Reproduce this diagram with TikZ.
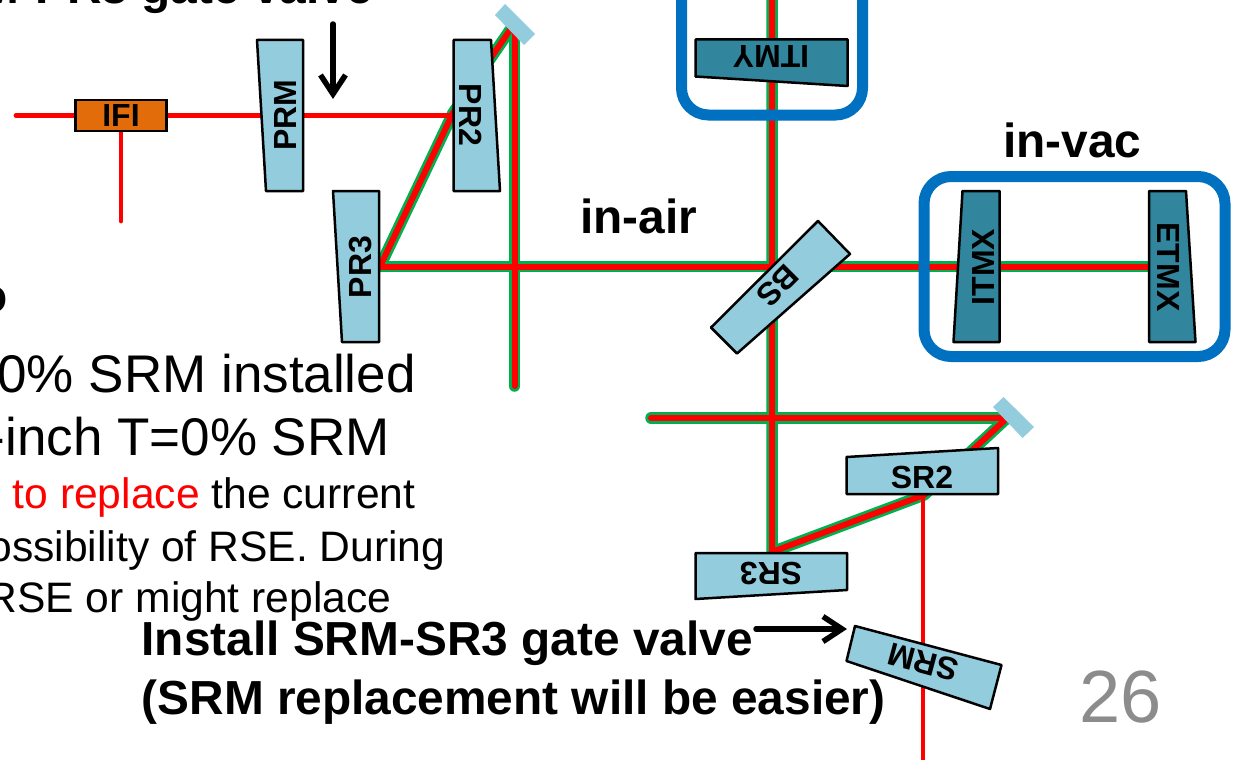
\documentclass[tikz,border=0pt]{standalone}
\usepackage{fontspec}
\setmainfont{Liberation Sans}
\usetikzlibrary{arrows.meta}
\definecolor{lightopt}{HTML}{93CDDD}
\definecolor{darkopt}{HTML}{31859C}
\definecolor{ifiorange}{HTML}{E36C0A}
\definecolor{vacblue}{HTML}{0070C0}
\definecolor{beamgreen}{HTML}{00B050}
\definecolor{pagegray}{HTML}{8C8C8C}
\tikzset{
  optlight/.style={draw=black,line width=2.5pt,line join=round,fill=lightopt},
  optdark/.style={draw=black,line width=2.5pt,line join=round,fill=darkopt},
  foldmirror/.style={fill=lightopt,draw=none},
  beamout/.style={draw=beamgreen,line width=11.5pt,line cap=round,line join=round},
  beamin/.style={draw=red,line width=6pt,line cap=round,line join=round},
  redbeam/.style={draw=red,line width=4.8pt,line cap=round},
  vacbox/.style={draw=vacblue,line width=11pt,rounded corners=27pt},
  optlabel/.style={inner sep=0pt,font=\fontsize{32}{36}\selectfont\bfseries},
  bigtext/.style={inner sep=0pt,anchor=base east,font=\fontsize{53}{60}\selectfont},
  smalltext/.style={inner sep=0pt,anchor=base east,font=\fontsize{42.6}{50}\selectfont},
  boldtext/.style={inner sep=0pt,font=\fontsize{47.8}{55}\selectfont\bfseries},
  callout/.style={draw=black,line width=5.5pt,line cap=round,-{Straight Barb[length=19pt,width=25pt,line width=5.5pt]}},
}
\begin{document}
\begin{tikzpicture}[x=1pt,y=-1pt]
\useasboundingbox (0,0) rectangle (1234,760);
\clip (0,0) rectangle (1234,760);
% beam coordinates
\coordinate (prthree) at (380,266.5);
\coordinate (prtwo) at (453,113);
\coordinate (fold) at (510,30);
\coordinate (foldbot) at (514.5,386);
\coordinate (foldtop) at (514.5,34);
\coordinate (etmx) at (1150,266.5);
\coordinate (ytop) at (772,-10);
\coordinate (srthree) at (772,552);
\coordinate (srtwo) at (924,495);
\coordinate (sfold) at (1006,419);
\coordinate (sleft) at (651,418);
\coordinate (sfoldh) at (1006,418);
\coordinate (inleft) at (16,115.5);
\coordinate (prtwoin) at (453,115.5);
\coordinate (ifidown) at (121,221);
\coordinate (srmout) at (923,775);
\coordinate (srmin) at (923,495);
% white page
\fill[white] (0,0) rectangle (1234,760);
% beams
\foreach \st in {beamout,beamin}{
  \draw[\st] (prthree) -- (prtwo) -- (fold);
  \draw[\st] (foldtop) -- (foldbot);
  \draw[\st] (prthree) -- (etmx);
  \draw[\st] (ytop) -- (srthree) -- (srtwo) -- (sfold);
  \draw[\st] (sleft) -- (sfoldh);
}
\draw[redbeam] (inleft) -- (prtwoin);
\draw[redbeam] (121,131) -- (ifidown);
\draw[redbeam] (srmin) -- (srmout);
% vacuum boxes
\draw[vacbox] (681.5,-60) rectangle (862.5,115);
\draw[vacbox] (924,176.5) rectangle (1225,356.5);
% fold mirrors
\fill[foldmirror] (505,4) -- (535,34) -- (524,45) -- (495,15) -- cycle;
\fill[foldmirror] (1003.6,397) -- (1034,427) -- (1022.6,438) -- (993,407) -- cycle;
% optics
\draw[optlight] (257,40) -- (303,40) -- (303,191) -- (266,191) -- cycle;
\draw[optlight] (453.5,40) -- (491,40) -- (500,191) -- (453.5,191) -- cycle;
\draw[optlight] (333,191) -- (379,191) -- (379,342) -- (342,342) -- cycle;
\draw[optlight] (818,221) -- (850,254) -- (737,353.5) -- (711,327.5) -- cycle;
\draw[optlight] (846.5,457) -- (998,448) -- (998,494) -- (846.5,494) -- cycle;
\draw[optlight] (695.5,553) -- (847,553) -- (847,590) -- (695.5,599) -- cycle;
\draw[optlight] (855,626) -- (1001.5,665) -- (990,709) -- (846.5,661) -- cycle;
\draw[optdark] (695.5,39.5) -- (847.5,39.5) -- (847.5,86) -- (695.5,76.5) -- cycle;
\draw[optdark] (962.5,191) -- (999.5,191) -- (999.5,342) -- (953.5,342) -- cycle;
\draw[optdark] (1149,191) -- (1186,191) -- (1195.5,342) -- (1149,342) -- cycle;
\node[draw=black,line width=2.5pt,fill=ifiorange,minimum width=91pt,minimum height=31pt,inner sep=0pt,optlabel] (ifi) at (121,115.5) {IFI};
% optic labels
\node[optlabel,rotate=90] (prm) at (285,115) {PRM};
\node[optlabel,rotate=-90] (prtwolab) at (471,115) {PR2};
\node[optlabel,rotate=90] (prthreelab) at (361,267) {PR3};
\node[optlabel,rotate=225] (bs) at (778,286) {BS};
\node[optlabel] (srtwolab) at (922,477) {SR2};
\node[optlabel,rotate=180] (srthreelab) at (771,573) {SR3};
\node[optlabel,rotate=165] (srm) at (923,662) {SRM};
\node[optlabel,rotate=180] (itmy) at (771,57) {ITMY};
\node[optlabel,rotate=90] (itmx) at (983,267) {ITMX};
\node[optlabel,rotate=-90] (etmx lab) at (1168,267) {ETMX};
% callouts
\coordinate (gvone) at (333,24);
\coordinate (gvonetip) at (333,99);
\draw[callout] (gvone) -- (gvonetip);
\coordinate (gvtwo) at (756,629);
\coordinate (gvtwotip) at (847,629);
\draw[callout] (gvtwo) -- (gvtwotip);
% texts
\node[boldtext,anchor=base east] (t1) at (373,4) {PRM-PR3 gate valve};
\node[boldtext,anchor=base east] (t2) at (8,312) {o};
\node[bigtext] (t3) at (416,392) {0\% SRM installed};
\node[bigtext] (t4) at (390,455) {-inch T=0\% SRM};
\node[smalltext] (t5) at (415.5,508) {\textcolor{red}{to replace} the current};
\node[smalltext] (t6) at (445.5,561) {ossibility of RSE. During};
\node[smalltext] (t7) at (391.5,612) {RSE or might replace};
\node[boldtext,anchor=base west] (t8) at (141.5,655) {Install SRM-SR3 gate valve};
\node[boldtext,anchor=base west] (t9) at (141.5,714) {(SRM replacement will be easier)};
\node[boldtext,anchor=base west] (inair) at (580,233) {in-air};
\node[boldtext,anchor=base west] (invac) at (1003,157) {in-vac};
\node[inner sep=0pt,anchor=base west,text=pagegray,font=\fontsize{74}{78}\selectfont] (page) at (1079,722) {26};
\end{tikzpicture}
\end{document}
